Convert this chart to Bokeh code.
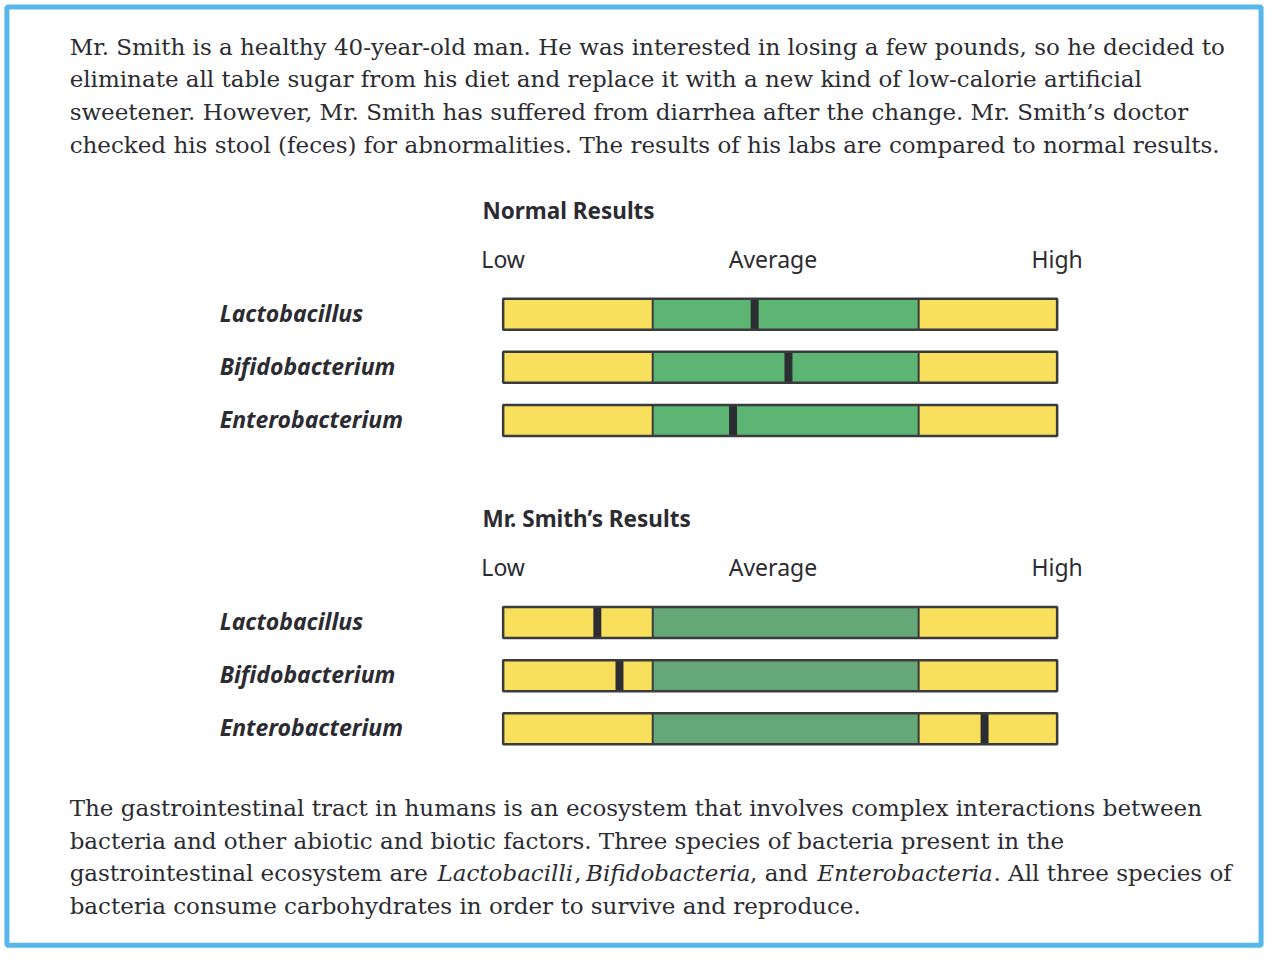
from bokeh.plotting import figure
from bokeh.models import Range1d
from bokeh.embed import file_html
from bokeh.resources import INLINE
from bokeh.core.properties import value

# ---------------- data ----------------
species = ["Lactobacillus", "Bifidobacterium", "Enterobacterium"]
normal_levels = [45.4, 51.5, 41.5]      # position on Low(0) .. High(100) scale
smith_levels = [17.0, 21.0, 86.9]
zone_labels = ["Low", "Average", "High"]
zone_label_pos = [0, 48.7, 100]
zone_edges = [0, 27, 75, 100]
panel_titles = ["Normal Results", "Mr. Smith\u2019s Results"]

intro_lines = [
    "Mr. Smith is a healthy 40-year-old man. He was interested in losing a few pounds, so he decided to",
    "eliminate all table sugar from his diet and replace it with a new kind of low-calorie artificial",
    "sweetener. However, Mr. Smith has suffered from diarrhea after the change. Mr. Smith\u2019s doctor",
    "checked his stool (feces) for abnormalities. The results of his labs are compared to normal results.",
]
closing_lines = [
    [("The gastrointestinal tract in humans is an ecosystem that involves complex interactions between", "normal", 70)],
    [("bacteria and other abiotic and biotic factors. Three species of bacteria present in the", "normal", 70)],
    [("gastrointestinal ecosystem are", "normal", 70), ("Lactobacilli", "italic", 442.5),
     (",", "normal", 581), ("Bifidobacteria", "italic", 593), (", and", "normal", 759),
     ("Enterobacteria", "italic", 827), (". All three species of", "normal", 1005.5)],
    [("bacteria consume carbohydrates in order to survive and reproduce.", "normal", 70)],
]

# ---------------- layout / style ----------------
W, H = 1266, 954
REF_W, REF_H = 1282, 970
SX, SY = W / REF_W, H / REF_H
def X(sx): return sx * SX
def Y(sy): return sy * SY

SCALE_X0 = 509               # reference x of value 0
PX_PER_UNIT = 5.61 * SX
TEXT = "#2b2b31"
YELLOW = "#f9e05c"
GREEN_NORMAL = "#5cb573"
GREEN_SMITH = "#66a777"
DARK = "#2c2d32"
OUTLINE = "#3a3b3e"
BLUE = "#58b7ea"
SERIF = "DejaVu Serif"
SANS = "Noto Sans"
SERIF_SIZE = "23px"
SANS_SIZE = "23px"

p = figure(width=W, height=H, output_backend="svg", toolbar_location=None,
           x_range=Range1d(0, W), y_range=Range1d(H, 0),
           x_axis_location=None, y_axis_location=None, min_border=0,
           background_fill_color="white", border_fill_color="white")
p.outline_line_color = None
p.grid.visible = False
v_start = (0 - X(SCALE_X0)) / PX_PER_UNIT
p.extra_x_ranges = {"val": Range1d(v_start, v_start + W / PX_PER_UNIT)}

# blue frame
p.quad(left=[X(6.5)], right=[X(1276.5)], top=[Y(6.5)], bottom=[Y(960.5)],
       fill_color=None, line_color=BLUE, line_width=5)

LINE_STEP = 33.4
# intro paragraph
for i, line in enumerate(intro_lines):
    p.text(x=[X(70)], y=[Y(46.8 + i * LINE_STEP)], text=[line], text_font=value(SERIF),
           text_font_size=SERIF_SIZE, text_color=TEXT, text_baseline="middle")

# closing paragraph
for i, segs in enumerate(closing_lines):
    for txt, style, sx in segs:
        p.text(x=[X(sx)], y=[Y(820.8 + i * LINE_STEP)], text=[txt], text_font=value(SERIF),
               text_font_size=SERIF_SIZE, text_font_style=style, text_color=TEXT,
               text_baseline="middle")

PANEL_SHIFT = 313.5
panels = [(normal_levels, GREEN_NORMAL, 0), (smith_levels, GREEN_SMITH, PANEL_SHIFT)]
ROW_GAP = 54
HALF = 15.5
for (levels, green, shift), title in zip(panels, panel_titles):
    p.text(x=[X(488)], y=[Y(213.5 + shift)], text=[title], text_font=value(SANS),
           text_font_size="22.5px", text_font_style="bold", text_color=TEXT,
           text_baseline="middle")
    p.text(x=zone_label_pos, y=[Y(263 + shift)] * 3, text=zone_labels,
           text_font=value(SANS), text_font_size=SANS_SIZE, text_color=TEXT,
           text_baseline="middle", text_align="center", x_range_name="val")
    ys = [Y(319 + shift + i * ROW_GAP) for i in range(len(species))]
    p.text(x=[X(222)] * len(species), y=[y - 1.5 for y in ys], text=species,
           text_font=value(SANS), text_font_size=SANS_SIZE, text_font_style="bold italic",
           text_color=TEXT, text_baseline="middle")
    colors = [YELLOW, green, YELLOW]
    for j in range(3):
        p.quad(left=[zone_edges[j]] * len(ys), right=[zone_edges[j + 1]] * len(ys),
               top=[y - HALF for y in ys], bottom=[y + HALF for y in ys],
               fill_color=colors[j], line_color=None, x_range_name="val")
    for e in zone_edges[1:-1]:
        p.segment(x0=[e] * len(ys), x1=[e] * len(ys), y0=[y - HALF for y in ys],
                  y1=[y + HALF for y in ys], line_color=OUTLINE, line_width=2,
                  x_range_name="val")
    p.quad(left=[l - 0.72 for l in levels], right=[l + 0.72 for l in levels],
           top=[y - HALF for y in ys], bottom=[y + HALF for y in ys],
           fill_color=DARK, line_color=None, x_range_name="val")
    p.quad(left=[zone_edges[0]] * len(ys), right=[zone_edges[-1]] * len(ys),
           top=[y - HALF for y in ys], bottom=[y + HALF for y in ys],
           fill_color=None, line_color=OUTLINE, line_width=2.5, x_range_name="val")

open("out.html", "w").write(file_html(p, INLINE))
